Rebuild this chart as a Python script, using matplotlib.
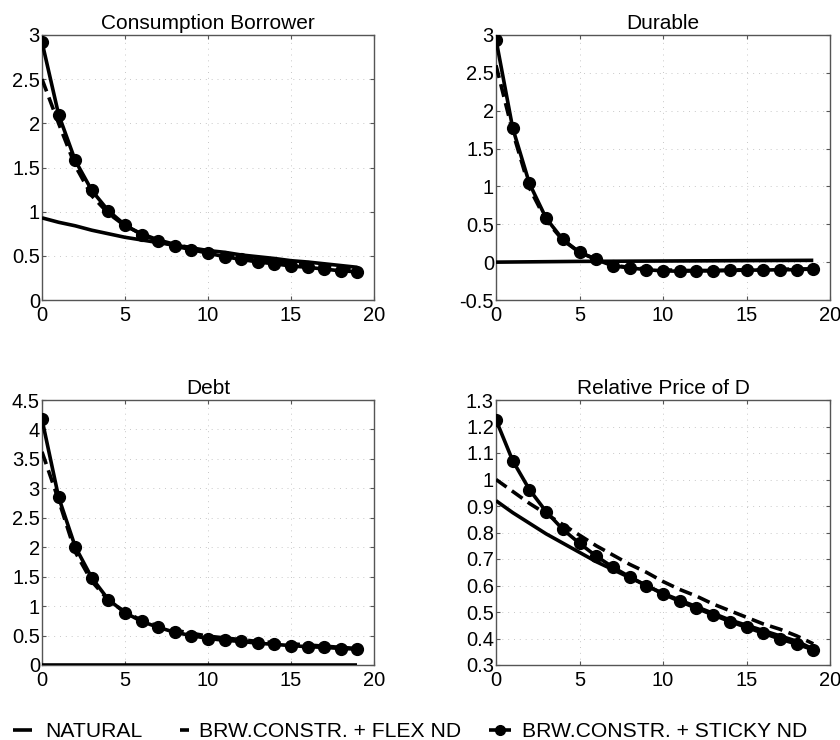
import matplotlib
matplotlib.use("Agg")
import matplotlib.pyplot as plt
from matplotlib.lines import Line2D

plt.rcParams['font.family'] = ['Liberation Sans', 'DejaVu Sans']

periods = list(range(20))

cons_natural = [0.93, 0.88, 0.84, 0.79, 0.75, 0.71, 0.68, 0.65, 0.62, 0.59,
                0.56, 0.54, 0.51, 0.49, 0.47, 0.445, 0.43, 0.41, 0.39, 0.37]
cons_flex = [2.50, 2.00, 1.52, 1.18, 0.98, 0.84, 0.75, 0.68, 0.63, 0.59,
             0.55, 0.52, 0.49, 0.46, 0.44, 0.42, 0.40, 0.38, 0.36, 0.34]
cons_sticky = [2.92, 2.10, 1.58, 1.24, 1.01, 0.85, 0.74, 0.67, 0.61, 0.57,
               0.53, 0.49, 0.46, 0.43, 0.41, 0.385, 0.37, 0.35, 0.33, 0.32]

dur_natural = [0.0, 0.002, 0.004, 0.006, 0.008, 0.01, 0.011, 0.012, 0.013, 0.014,
               0.015, 0.016, 0.017, 0.018, 0.019, 0.02, 0.021, 0.022, 0.023, 0.024]
dur_flex = [2.60, 1.72, 0.98, 0.55, 0.29, 0.13, 0.04, -0.04, -0.07, -0.09,
            -0.10, -0.11, -0.11, -0.11, -0.105, -0.10, -0.10, -0.095, -0.09, -0.09]
dur_sticky = [2.94, 1.77, 1.04, 0.58, 0.30, 0.13, 0.035, -0.05, -0.075, -0.10,
              -0.115, -0.12, -0.115, -0.115, -0.11, -0.105, -0.105, -0.10, -0.10, -0.09]

debt_natural = [0.005] * 20
debt_flex = [3.62, 2.80, 1.92, 1.42, 1.10, 0.90, 0.76, 0.66, 0.59, 0.54,
             0.49, 0.46, 0.43, 0.40, 0.38, 0.36, 0.34, 0.32, 0.30, 0.28]
debt_sticky = [4.17, 2.85, 2.01, 1.48, 1.11, 0.89, 0.74, 0.64, 0.555, 0.50,
               0.45, 0.42, 0.40, 0.37, 0.35, 0.33, 0.31, 0.30, 0.28, 0.27]

price_natural = [0.92, 0.875, 0.835, 0.795, 0.76, 0.725, 0.69, 0.66, 0.63, 0.60,
                 0.57, 0.545, 0.52, 0.495, 0.47, 0.45, 0.43, 0.41, 0.39, 0.36]
price_flex = [1.00, 0.955, 0.91, 0.87, 0.83, 0.79, 0.75, 0.715, 0.68, 0.65,
              0.615, 0.585, 0.56, 0.53, 0.505, 0.48, 0.455, 0.435, 0.41, 0.38]
price_sticky = [1.225, 1.071, 0.962, 0.879, 0.812, 0.759, 0.711, 0.669, 0.633, 0.600,
                0.568, 0.540, 0.514, 0.489, 0.464, 0.442, 0.42, 0.398, 0.379, 0.357]

titles = ["Consumption Borrower", "Durable", "Debt", "Relative Price of D"]
ylims = [(0, 3), (-0.5, 3), (0, 4.5), (0.3, 1.3)]
yticks = [[0, 0.5, 1, 1.5, 2, 2.5, 3],
          [-0.5, 0, 0.5, 1, 1.5, 2, 2.5, 3],
          [0, 0.5, 1, 1.5, 2, 2.5, 3, 3.5, 4, 4.5],
          [0.3, 0.4, 0.5, 0.6, 0.7, 0.8, 0.9, 1, 1.1, 1.2, 1.3]]
ytick_labels = [["0", "0.5", "1", "1.5", "2", "2.5", "3"],
                ["-0.5", "0", "0.5", "1", "1.5", "2", "2.5", "3"],
                ["0", "0.5", "1", "1.5", "2", "2.5", "3", "3.5", "4", "4.5"],
                ["0.3", "0.4", "0.5", "0.6", "0.7", "0.8", "0.9", "1", "1.1", "1.2", "1.3"]]
xticks = [0, 5, 10, 15, 20]
xtick_labels = ["0", "5", "10", "15", "20"]
legend_labels = ["NATURAL", "BRW.CONSTR. + FLEX ND", "BRW.CONSTR. + STICKY ND"]

series = [(cons_natural, cons_flex, cons_sticky),
          (dur_natural, dur_flex, dur_sticky),
          (debt_natural, debt_flex, debt_sticky),
          (price_natural, price_flex, price_sticky)]

W, H = 840, 740
fig = plt.figure(figsize=(8.4, 7.4), dpi=100)
boxes = [(42, 35, 374, 300), (496, 35, 830, 300),
         (42, 400, 374, 665), (496, 400, 830, 665)]

LW = 2.6
DASH = (3.6, 1.8)

for i, (l, t, r, b) in enumerate(boxes):
    ax = fig.add_axes([l / W, 1 - b / H, (r - l) / W, (b - t) / H])
    nat, flex, sticky = series[i]
    ax.plot(periods, nat, color='black', lw=LW, solid_capstyle='butt', zorder=3)
    ax.plot(periods, flex, color='black', lw=LW, dashes=DASH, zorder=3)
    ax.plot(periods, sticky, color='black', lw=LW, marker='o', ms=8.5, zorder=4)
    ax.set_xlim(0, 20)
    ax.set_ylim(*ylims[i])
    ax.set_xticks(xticks)
    ax.set_xticklabels(xtick_labels)
    ax.set_yticks(yticks[i])
    ax.set_yticklabels(ytick_labels[i])
    ax.tick_params(direction='in', length=3, width=0.8, labelsize=14.5,
                   top=True, right=True, colors='#555555', labelcolor='black')
    ax.tick_params(axis='y', pad=1.5)
    ax.tick_params(axis='x', pad=4.5)
    ax.grid(True, linestyle=(0, (1, 5)), color='#c8c8c8', lw=0.7)
    for s in ax.spines.values():
        s.set_color('#555555')
        s.set_linewidth(1.0)
    ax.set_title(titles[i], fontsize=15, pad=4)

# manual legend at the bottom (positions in figure pixels)
ly = 1 - 730 / H
base = 1 - 737 / H
fig.add_artist(Line2D([13 / W, 32 / W], [ly, ly], color='black', lw=LW,
                      solid_capstyle='butt', transform=fig.transFigure))
fig.text(45 / W, base, legend_labels[0], fontsize=15.2, va='baseline', ha='left')
fig.add_artist(Line2D([180 / W, 189 / W], [ly, ly], color='black', lw=LW,
                      solid_capstyle='butt', transform=fig.transFigure))
fig.text(199 / W, base, legend_labels[1], fontsize=15.2, va='baseline', ha='left')
fig.add_artist(Line2D([489 / W, 511 / W], [ly, ly], color='black', lw=LW,
                      solid_capstyle='butt', transform=fig.transFigure))
fig.add_artist(Line2D([500 / W], [ly], color='black', marker='o', ms=7,
                      transform=fig.transFigure))
fig.text(522 / W, base, legend_labels[2], fontsize=15.2, va='baseline', ha='left')

fig.savefig("out.png", dpi=100)
